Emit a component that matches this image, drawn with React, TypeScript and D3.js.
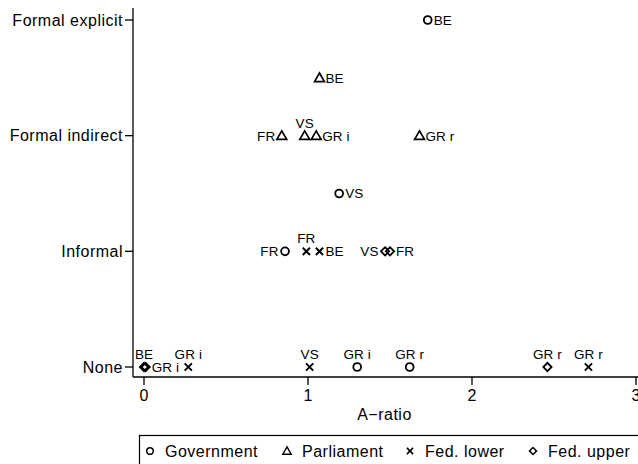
import React from 'react';
import * as d3 from 'd3';

const categories = ['None', 'Informal', 'Formal indirect', 'Formal explicit'];
const xTicks = [0, 1, 2, 3];

// A-ratio (x) and level (y, 0 = None ... 3 = Formal explicit)
const governmentCountries = ['BE', 'VS', 'FR', 'GR i', 'GR r'];
const governmentRatio = [1.73, 1.19, 0.86, 1.3, 1.62];
const governmentLevel = [3, 1.5, 1, 0, 0];

const parliamentCountries = ['BE', 'FR', 'VS', 'GR i', 'GR r'];
const parliamentRatio = [1.07, 0.84, 0.98, 1.05, 1.68];
const parliamentLevel = [2.5, 2, 2, 2, 2];

const fedLowerCountries = ['FR', 'BE', 'GR i', 'VS', 'GR r'];
const fedLowerRatio = [0.99, 1.07, 0.27, 1.01, 2.71];
const fedLowerLevel = [1, 1, 0, 0, 0];

const fedUpperCountries = ['VS', 'FR', 'BE', 'GR i', 'GR r'];
const fedUpperRatio = [1.47, 1.5, 0, 0.01, 2.46];
const fedUpperLevel = [1, 1, 0, 0, 0];

// where each marker label sits: r = right, l = left, t = above
const labelSide: Record<string, string[]> = {
  government: ['r', 'r', 'l', 't', 't'],
  parliament: ['r', 'l', 't', 'r', 'r'],
  fedLower: ['t', 'r', 't', 't', 't'],
  fedUpper: ['l', 'r', 't', 'r', 't'],
};

const series = [
  { key: 'government', name: 'Government', countries: governmentCountries, ratio: governmentRatio, level: governmentLevel },
  { key: 'parliament', name: 'Parliament', countries: parliamentCountries, ratio: parliamentRatio, level: parliamentLevel },
  { key: 'fedLower', name: 'Fed. lower', countries: fedLowerCountries, ratio: fedLowerRatio, level: fedLowerLevel },
  { key: 'fedUpper', name: 'Fed. upper', countries: fedUpperCountries, ratio: fedUpperRatio, level: fedUpperLevel },
];

const W = 638;
const H = 464;
const font = '"Liberation Sans", Arial, Helvetica, sans-serif';

const x = d3.scaleLinear().domain([0, 3]).range([144, 636]);
const y = d3.scaleLinear().domain([0, 3]).range([367, 20]);
const left = 133;
const bottom = 377;
const top = 8;

const marker = (key: string) => {
  if (key === 'government') return <circle r={3.9} fill="none" stroke="#000" strokeWidth={1.8} />;
  if (key === 'parliament')
    return <path d={d3.symbol().type(d3.symbolTriangle).size(42)() || ''} transform="translate(0,0.9)" fill="none" stroke="#000" strokeWidth={1.7} strokeLinejoin="miter" />;
  if (key === 'fedLower')
    return <path d={d3.symbol().type(d3.symbolTimes).size(36)() || ''} fill="none" stroke="#000" strokeWidth={1.9} />;
  return <path d={d3.symbol().type(d3.symbolSquare).size(34)() || ''} transform="rotate(45)" fill="none" stroke="#000" strokeWidth={1.8} />;
};

export default function App() {
  const legendItems = series.map((s) => s.name);
  const legendX = [150, 287, 410, 533];
  return (
    <svg width={W} height={H} style={{ position: 'absolute', left: 0, top: 0, background: '#fff' }} fontFamily={font}>
      <rect width={W} height={H} fill="#fff" />
      {/* y axis */}
      <line x1={left} x2={left} y1={top} y2={bottom} stroke="#000" strokeWidth={1.3} />
      {categories.map((c, i) => (
        <g key={c} transform={`translate(0,${y(i)})`}>
          <line x1={left - 8} x2={left} stroke="#000" strokeWidth={1.3} />
          <text x={left - 10} dy="0.36em" textAnchor="end" fontSize={16} letterSpacing={0.5}>{c}</text>
        </g>
      ))}
      {/* x axis */}
      <line x1={left} x2={W} y1={bottom} y2={bottom} stroke="#000" strokeWidth={1.3} />
      {xTicks.map((t) => (
        <g key={t} transform={`translate(${x(t)},${bottom})`}>
          <line y1={0} y2={8} stroke="#000" strokeWidth={1.3} />
          <text y={18} dy="0.36em" textAnchor="middle" fontSize={16}>{t}</text>
        </g>
      ))}
      <text x={(left + 636) / 2} y={414} dy="0.36em" textAnchor="middle" fontSize={16} letterSpacing={0.5}>A−ratio</text>
      {/* points */}
      {series.map((s) =>
        s.countries.map((c, i) => {
          const px = x(s.ratio[i]);
          const py = y(s.level[i]);
          const side = labelSide[s.key][i];
          return (
            <g key={s.key + c} transform={`translate(${px},${py})`}>
              {marker(s.key)}
              {side === 'r' && <text x={6} dy="0.36em" fontSize={13.5} letterSpacing={0.1}>{c}</text>}
              {side === 'l' && <text x={-6.5} dy="0.36em" textAnchor="end" fontSize={13.5} letterSpacing={0.1}>{c}</text>}
              {side === 't' && <text y={-8} textAnchor="middle" fontSize={13.5} letterSpacing={0.1}>{c}</text>}
            </g>
          );
        })
      )}
      {/* legend */}
      <rect x={139.5} y={435.5} width={W} height={H} fill="none" stroke="#000" strokeWidth={1.2} />
      {legendItems.map((name, i) => (
        <g key={name} transform={`translate(${legendX[i]},451)`}>
          <g transform="scale(0.85)">{marker(series[i].key)}</g>
          <text x={15} dy="0.36em" fontSize={16} letterSpacing={0.5}>{name}</text>
        </g>
      ))}
    </svg>
  );
}
